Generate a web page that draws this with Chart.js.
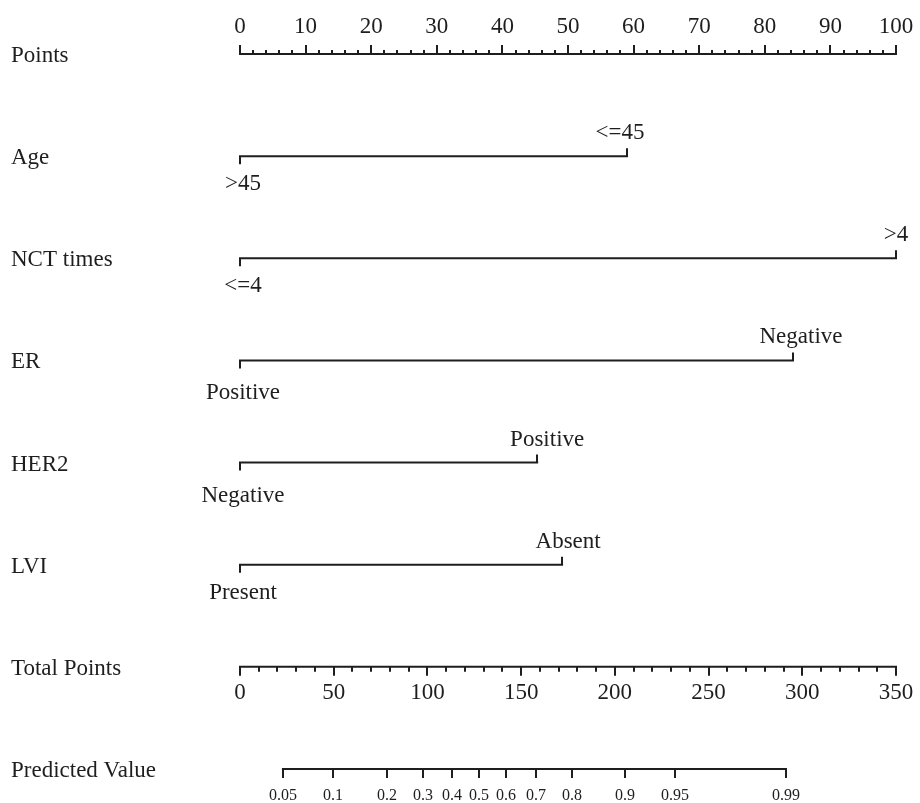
<!DOCTYPE html>
<html><head><meta charset="utf-8">
<script src="https://cdn.jsdelivr.net/npm/chart.js@4"></script>
<style>html,body{margin:0;padding:0;background:#fff}#wrap{width:920px;height:803px;position:relative}</style>
</head><body><div id="wrap"><canvas id="c" width="920" height="803"></canvas></div>
<script>
// ---- data ----
const rowLabels = ['Points','Age','NCT times','ER','HER2','LVI','Total Points','Predicted Value'];
const variables = ['Age','NCT times','ER','HER2','LVI'];
const lowLevels = ['>45','<=4','Positive','Negative','Present'];
const lowPoints = [0,0,0,0,0];
const highLevels = ['<=45','>4','Negative','Positive','Absent'];
const highPoints = [59,100,84.3,45.3,49.1];
const pointsTicks = [0,10,20,30,40,50,60,70,80,90,100];
const totalTicks = [0,50,100,150,200,250,300,350];
const predLabels = ['0.05','0.1','0.2','0.3','0.4','0.5','0.6','0.7','0.8','0.9','0.95','0.99'];
const predTotals = [22.9,49.6,78.4,97.6,113.1,127.5,141.9,157.9,177.1,205.4,232.1,291.3];

// ---- style / label nudges (pixels) ----
const INK = '#1e1e1e';
const FONT = '"Liberation Serif","Times New Roman",serif';
const highLabelDx = [-7,0,8,10,6];
const lowLabelDy = [34,34,39,39,34];

const datasets = [];
datasets.push({xAxisID:'x', data:[{x:0,y:0},{x:100,y:0}]});
variables.forEach((v,i)=>{
  datasets.push({xAxisID:'x', data:[{x:lowPoints[i],y:i+1},{x:highPoints[i],y:i+1}]});
});
datasets.push({xAxisID:'xt', data:[{x:0,y:6},{x:350,y:6}]});
datasets.push({xAxisID:'xt', data:[{x:predTotals[0],y:7},{x:predTotals[predTotals.length-1],y:7}]});
datasets.forEach(d=>{Object.assign(d,{showLine:true,borderColor:INK,borderWidth:2,pointRadius:0,clip:false,tension:0,borderCapStyle:'square'});});

const nomo = {
  id:'nomo',
  afterDatasetsDraw(chart){
    const ctx = chart.ctx, X = chart.scales.x, XT = chart.scales.xt, Y = chart.scales.y;
    ctx.save();
    ctx.strokeStyle = INK; ctx.fillStyle = INK; ctx.lineWidth = 2; ctx.lineCap='butt';
    const vtick = (px, y0, y1)=>{ctx.beginPath();ctx.moveTo(Math.round(px),y0);ctx.lineTo(Math.round(px),y1);ctx.stroke();};
    // row labels
    ctx.font = '23px '+FONT; ctx.textAlign='left'; ctx.textBaseline='alphabetic';
    rowLabels.forEach((l,i)=>{ctx.fillText(l, 11, Y.getPixelForValue(i)+8);});
    // Points axis
    const y0 = Y.getPixelForValue(0);
    for(let v=0; v<=100; v+=2){
      const major = pointsTicks.includes(v);
      vtick(X.getPixelForValue(v), y0, y0-(major?9:4));
    }
    ctx.textAlign='center';
    pointsTicks.forEach(v=>ctx.fillText(String(v), X.getPixelForValue(v), y0-21));
    // variables
    variables.forEach((v,i)=>{
      const y = Y.getPixelForValue(i+1);
      const xl = X.getPixelForValue(lowPoints[i]), xh = X.getPixelForValue(highPoints[i]);
      vtick(xl, y, y+8); vtick(xh, y, y-8);
      ctx.fillText(lowLevels[i], xl+3, y+lowLabelDy[i]);
      ctx.fillText(highLevels[i], xh+highLabelDx[i], y-17);
    });
    // Total points
    const y6 = Y.getPixelForValue(6);
    for(let v=0; v<=350; v+=10){
      const major = totalTicks.includes(v);
      vtick(XT.getPixelForValue(v), y6, y6+(major?9:5));
    }
    totalTicks.forEach(v=>ctx.fillText(String(v), XT.getPixelForValue(v), y6+32));
    // Predicted value
    const y7 = Y.getPixelForValue(7);
    ctx.font = '16px '+FONT;
    predTotals.forEach((t,i)=>{
      const px = XT.getPixelForValue(t);
      vtick(px, y7, y7+9);
      ctx.fillText(predLabels[i], px, y7+31);
    });
    ctx.restore();
  }
};

new Chart(document.getElementById('c'), {
  type:'scatter',
  data:{datasets},
  options:{
    responsive:false, animation:false, events:[],
    layout:{padding:{left:240,right:24,top:54,bottom:34}},
    plugins:{legend:{display:false},tooltip:{enabled:false},title:{display:false}},
    scales:{
      x:{type:'linear',min:0,max:100,display:false},
      xt:{type:'linear',axis:'x',min:0,max:350,display:false},
      y:{type:'linear',min:0,max:7,reverse:true,display:false}
    }
  },
  plugins:[nomo]
});
</script></body></html>
